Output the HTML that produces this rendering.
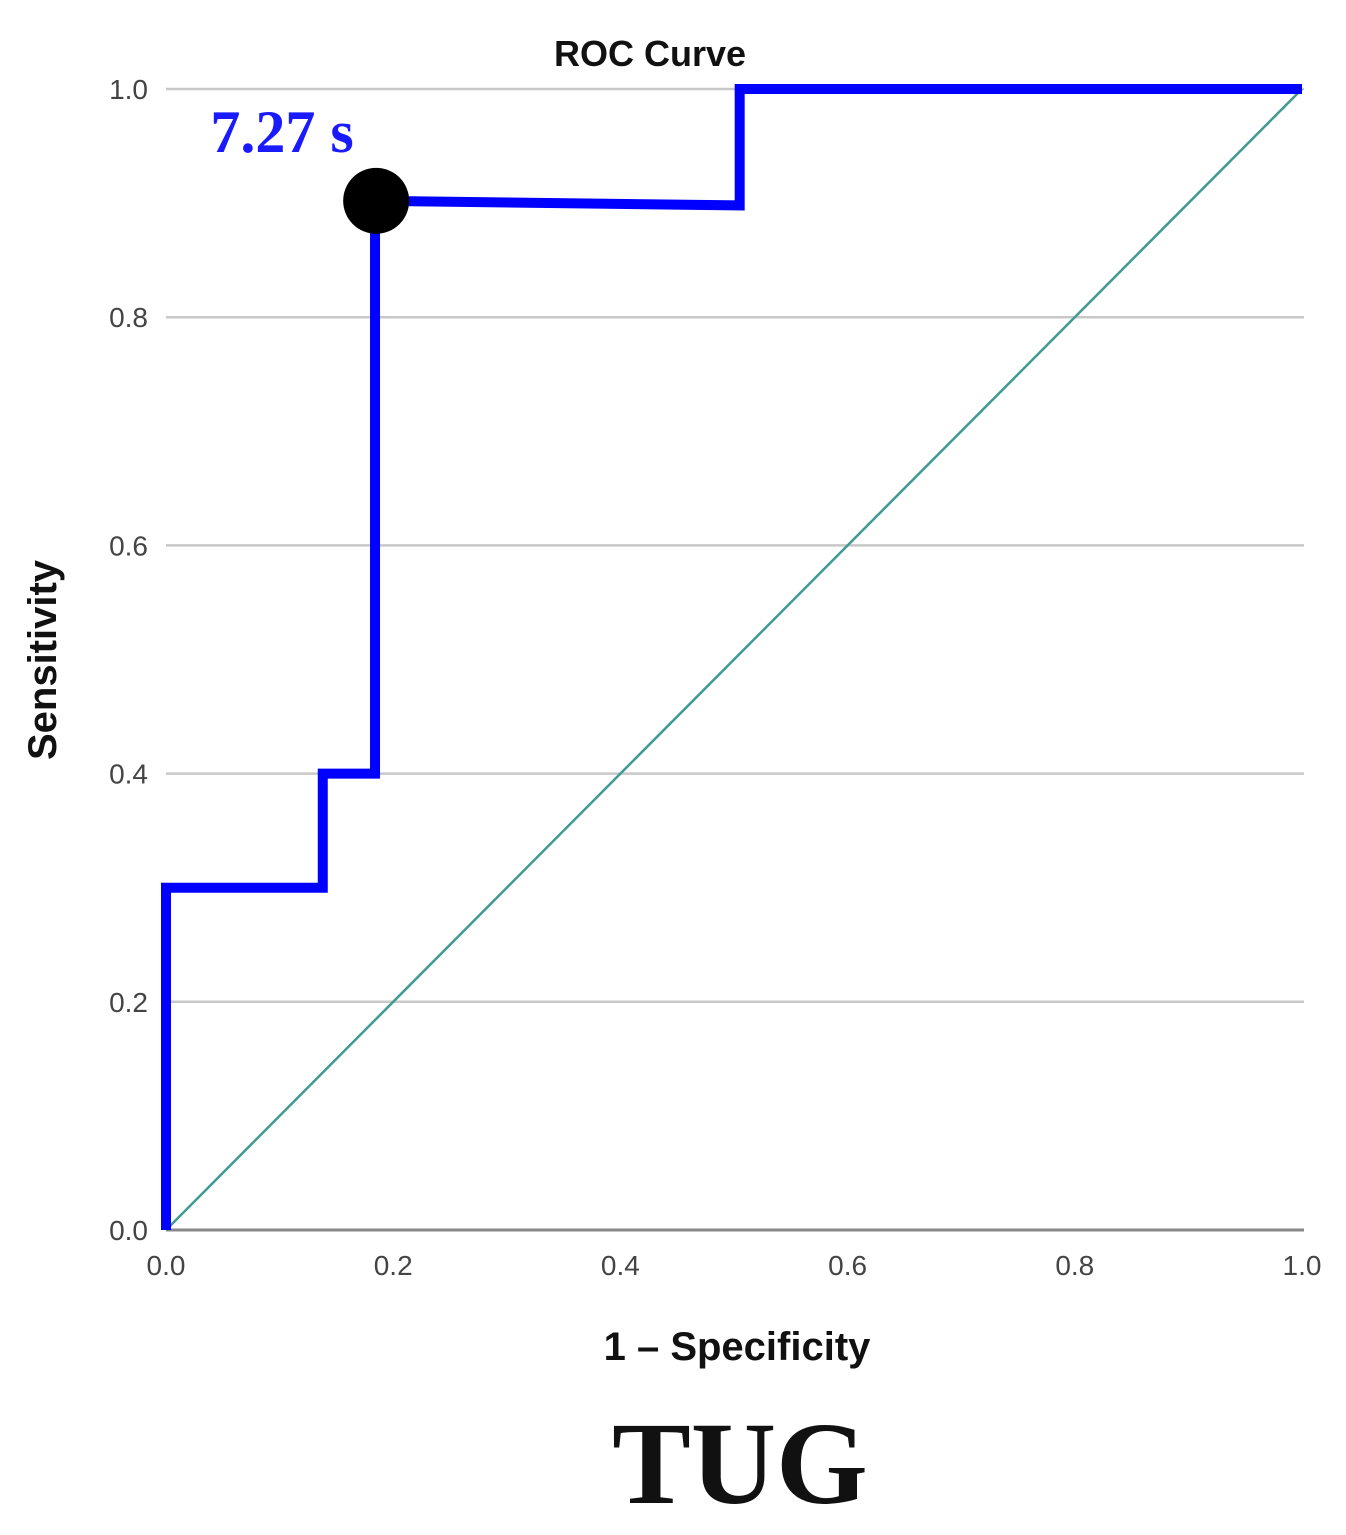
<!DOCTYPE html>
<html><head><meta charset="utf-8"><style>
html,body{margin:0;padding:0;background:#fff;}
svg{display:block;}
</style></head><body>
<svg id="chart" width="1346" height="1535" viewBox="0 0 1346 1535">
<text x="650" y="66" text-anchor="middle" font-family="Liberation Sans, sans-serif" font-size="36" font-weight="bold" fill="#111">ROC Curve</text>
<g id="grid"></g>
<g id="diag"></g>
<g id="curve"></g>
<g id="xticks"></g>
<g id="yticks"></g>
<text x="737" y="1360" text-anchor="middle" font-family="Liberation Sans, sans-serif" font-size="40" font-weight="bold" fill="#111">1 – Specificity</text>
<text transform="translate(56,660) rotate(-90)" text-anchor="middle" font-family="Liberation Sans, sans-serif" font-size="40" font-weight="bold" fill="#111">Sensitivity</text>
<text x="282" y="152" text-anchor="middle" font-family="Liberation Serif, serif" font-size="60" font-weight="bold" fill="#1a1aff">7.27 s</text>
<text x="740" y="1503" text-anchor="middle" font-family="Liberation Serif, serif" font-size="118" font-weight="bold" fill="#111">TUG</text>
</svg>
<script>
const fprValues = [0, 0, 0.138, 0.138, 0.184, 0.184, 0.505, 0.505, 1];
const tprValues = [0, 0.3, 0.3, 0.4, 0.4, 0.902, 0.898, 1, 1];
const tickValues = [0, 0.2, 0.4, 0.6, 0.8, 1.0];
const tickLabels = ["0.0", "0.2", "0.4", "0.6", "0.8", "1.0"];
const cutoffPoint = [0.185, 0.902];

const NS = "http://www.w3.org/2000/svg";
const x = v => 166 + v * 1136;
const y = v => 1230 - v * 1141;
function mk(tag, attrs, parent){const e=document.createElementNS(NS,tag);for(const k in attrs)e.setAttribute(k,attrs[k]);parent.appendChild(e);return e;}

const grid=document.getElementById('grid');
tickValues.forEach((t,i)=>{
  const l=mk('line',{x1:x(0),x2:x(1)+2,y1:y(t),y2:y(t),stroke:i===0?'#888':'#c8c8c8','stroke-width':i===0?3:2.5},grid);
  
  
});
const d=mk('line',{x1:x(0),y1:y(0),x2:x(1),y2:y(1),stroke:'#3f9a93','stroke-width':2.5},document.getElementById('diag'));



const pts=fprValues.map((f,i)=>x(f)+','+y(tprValues[i])).join(' ');
const pl=mk('polyline',{points:pts,fill:'none',stroke:'#0000ff','stroke-width':10,'stroke-linejoin':'miter'},document.getElementById('curve'));


const c=mk('circle',{cx:x(cutoffPoint[0]),cy:y(cutoffPoint[1]),r:33,fill:'#000'},document.getElementById('curve'));



const xt=document.getElementById('xticks'), yt=document.getElementById('yticks');
tickValues.forEach((t,i)=>{
  const a=mk('text',{x:x(t),y:1275,'text-anchor':'middle','font-family':'Liberation Sans, sans-serif','font-size':28,fill:'#444'},xt);
  a.textContent=tickLabels[i];
  
  
  const b=mk('text',{x:148,y:y(t)+10,'text-anchor':'end','font-family':'Liberation Sans, sans-serif','font-size':28,fill:'#444'},yt);
  b.textContent=tickLabels[i];
  
  
});
</script>
</body></html>
